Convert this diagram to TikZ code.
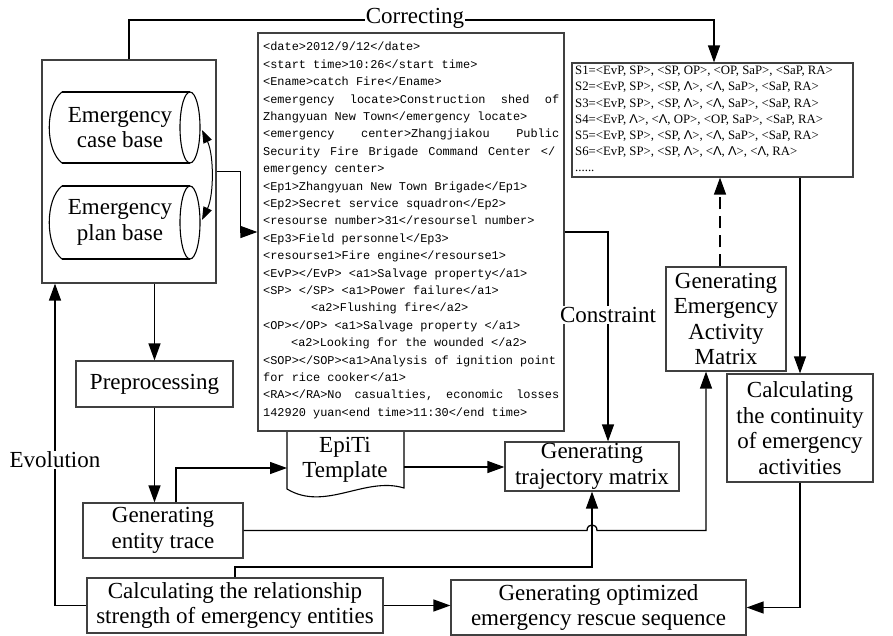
\documentclass[tikz,border=0pt]{standalone}
\usepackage{fontspec}
\setmainfont{Liberation Serif}
\newfontfamily\xmlfont{Liberation Mono}
\newfontfamily\wgfont{Liberation Sans}
\usetikzlibrary{arrows.meta,calc}
\newcommand\mainsz{\fontsize{23}{25.5}\selectfont}
\newcommand\xmlsz{\xmlfont\fontsize{11.9}{17.4}\selectfont}
\newcommand\ssz{\fontsize{12.8}{16.2}\selectfont}
\newcommand\wg{{\wgfont Λ}}
\begin{document}
\begin{tikzpicture}[x=1pt,y=-1pt,
  box/.style={draw=black!75, line width=1.2pt, fill=white, inner sep=0pt, align=center, font=\mainsz},
  conn/.style={line width=1.3pt, draw=black},
  arr/.style={conn, -{Triangle[length=17pt,width=12pt]}},
  lab/.style={fill=white, inner sep=1pt, font=\mainsz},
  cyl/.style={draw=black, line width=1.1pt}
]
\fill[white] (0,0) rectangle (893,636);
\useasboundingbox (0,0) rectangle (893,636);

% boxes
\node[box, minimum width=174pt, minimum height=223pt] (big) at (129,171.5) {};
\node[box, minimum width=306pt, minimum height=398pt] (xml) at (411,232) {};
\node[box, minimum width=281pt, minimum height=114pt] (sbox) at (712.5,120) {};
\node[box, minimum width=120pt, minimum height=104pt] (mat) at (726,319) {Generating\\Emergency\\Activity\\Matrix};
\node[box, minimum width=146pt, minimum height=108pt] (cont) at (800,428) {Calculating\\the continuity\\of emergency\\activities};
\node[box, minimum width=174pt, minimum height=49pt] (traj) at (592,466.5) {Generating\\trajectory matrix};
\node[box, minimum width=157pt, minimum height=46pt] (pre) at (154.5,384) {Preprocessing};
\node[box, minimum width=160pt, minimum height=55pt] (trace) at (163,530.5) {Generating\\entity trace};
\node[box, minimum width=296pt, minimum height=55pt] (rel) at (235,605.5) {Calculating the relationship\\strength of emergency entities};
\node[box, minimum width=295pt, minimum height=55pt] (opt) at (598.5,607.5) {Generating optimized\\emergency rescue sequence};

% cylinders
\draw[cyl] (62,92) -- (190,92) (62,163) -- (190,163);
\draw[cyl] (62,92) .. controls (45,105) and (45,150) .. (62,163);
\draw[cyl] (190,127.5) ellipse [x radius=10, y radius=35.5];
\draw[cyl] (62,186) -- (190,186) (62,259) -- (190,259);
\draw[cyl] (62,186) .. controls (45,199) and (45,246) .. (62,259);
\draw[cyl] (190,222.5) ellipse [x radius=10, y radius=36.5];
\node[font=\mainsz, align=center, inner sep=0pt] (casebase) at (120,127.5) {Emergency\\case base};
\node[font=\mainsz, align=center, inner sep=0pt] (planbase) at (120,222.5) {Emergency\\plan base};
\coordinate (cylA) at (202,130);
\coordinate (cylB) at (202,220);
\draw[conn, line width=1pt, {Triangle[length=13pt,width=9pt]}-{Triangle[length=13pt,width=9pt]}] (cylA) .. controls (214,155) and (214,195) .. (cylB);

% EpiTi template
\draw[cyl, fill=white] (287,431) -- (287,489) .. controls (325,512) and (365,476) .. (404,488) -- (404,431);
\node[font=\mainsz, align=center, inner sep=0pt] (tmpl) at (345,460) {EpiTi\\Template};
\coordinate (tmplL) at (287,468);
\coordinate (tmplR) at (404,467);
\draw[black!75, line width=1.2pt] (258,431) -- (564,431);

% XML text
\node[anchor=north west, inner sep=0pt, align=left, font=\xmlsz] (xmltext) at (263,42) {%
<date>2012/9/12</date>\\
<start time>10:26</start time>\\
<Ename>catch Fire</Ename>\\
\hbox to 296pt{<emergency\hfill locate>Construction\hfill shed\hfill of}\\
Zhangyuan New Town</emergency locate>\\
\hbox to 296pt{<emergency\hfill center>Zhangjiakou\hfill Public}\\
\hbox to 292pt{Security\hfill Fire\hfill Brigade\hfill Command\hfill Center\hfill </}\\
emergency center>\\
<Ep1>Zhangyuan New Town Brigade</Ep1>\\
<Ep2>Secret service squadron</Ep2>\\
<resourse number>31</resoursel number>\\
<Ep3>Field personnel</Ep3>\\
<resourse1>Fire engine</resourse1>\\
<EvP></EvP> <a1>Salvage property</a1>\\
<SP> </SP> <a1>Power failure</a1>\\
\hspace*{48pt}<a2>Flushing fire</a2>\\
<OP></OP> <a1>Salvage property </a1>\\
\hspace*{28pt}<a2>Looking for the wounded </a2>\\
<SOP></SOP><a1>Analysis of ignition point\\
for rice cooker</a1>\\
\hbox to 296pt{<RA></RA>No\hfill casualties,\hfill economic\hfill losses}\\
142920 yuan<end time>11:30</end time>};

% S text
\node[anchor=north west, inner sep=0pt, align=left, font=\ssz] (stext) at (575,66) {%
S1=<EvP, SP>, <SP, OP>, <OP, SaP>, <SaP, RA>\\
S2=<EvP, SP>, <SP, \wg>, <\wg, SaP>, <SaP, RA>\\
S3=<EvP, SP>, <SP, \wg>, <\wg, SaP>, <SaP, RA>\\
S4=<EvP, \wg>, <\wg, OP>, <OP, SaP>, <SaP, RA>\\
S5=<EvP, SP>, <SP, \wg>, <\wg, SaP>, <SaP, RA>\\
S6=<EvP, SP>, <SP, \wg>, <\wg, \wg>, <\wg, RA>\\
......};

% connectors
\coordinate (topline) at (0,20);
\draw[arr] (big.north) -- (big.north |- topline) -| ($(sbox.north)+(1.5,0)$);
\node[lab] (correcting) at (415,18) {Correcting};

\draw[arr] (big.east) -- ++(24,0) |- (xml.west);
\draw[arr] (big.south -| pre.north) -- (pre.north);
\draw[arr] (pre.south) -- (pre.south |- trace.north);
\draw[arr] ($(trace.north)+(13,0)$) |- (tmplL);
\draw[arr] (tmplR) -- (traj.west |- tmplR);
\draw[arr] (trace.east) -- (587,530.5) .. controls (587,523) and (597,523) .. (597,530.5) -| ($(mat.south)+(-20,0)$);
\draw[arr] (rel.north) -- (235,567) -| (traj.south);
\draw[arr] (rel.west) -| ($(big.south)+(-74,0)$);
\node[lab] (evolution) at (55,460) {Evolution};
\draw[arr] (rel.east) -- (opt.west |- rel.east);
\draw[arr] (xml.east) -| ($(traj.north)+(16,0)$);
\node[lab] (constraint) at (608,315) {Constraint};
\coordinate (dstart) at ($(mat.north)+(-6,0)$);
\draw[arr, dash pattern=on 12pt off 7pt] (dstart) -- (dstart |- sbox.south);
\draw[arr] (sbox.south -| cont.north) -- (cont.north);
\draw[arr] (cont.south) |- (opt.east);
\end{tikzpicture}
\end{document}
